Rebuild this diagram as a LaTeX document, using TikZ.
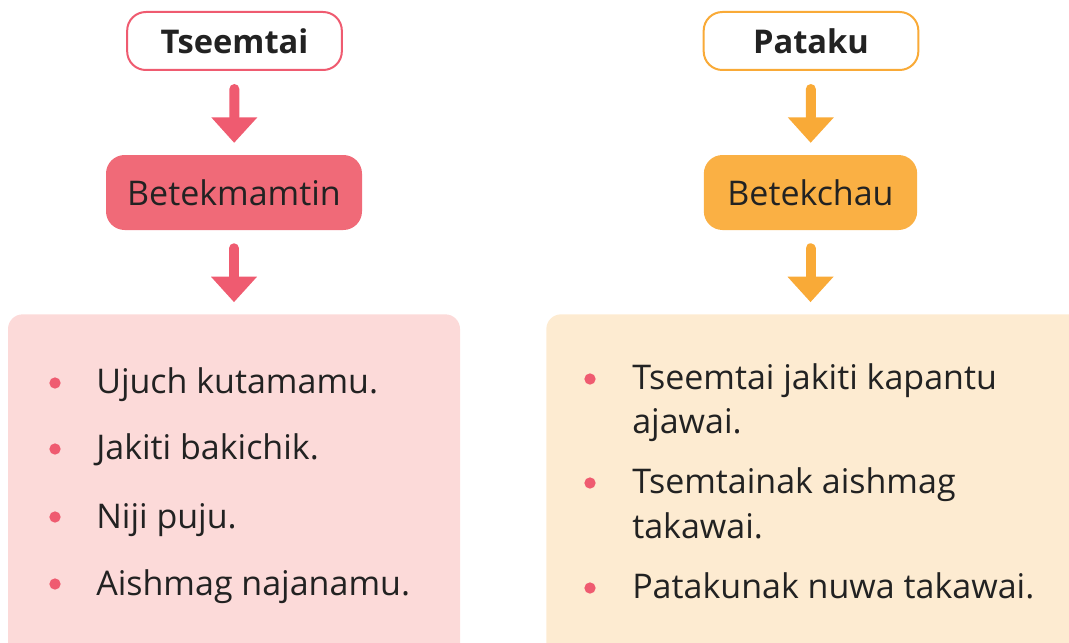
\documentclass[tikz,border=0pt]{standalone}
\usepackage{fontspec}
\setmainfont{Open Sans}
\usetikzlibrary{arrows.meta}

\definecolor{rosered}{RGB}{239,91,112}
\definecolor{rosefill}{RGB}{240,106,120}
\definecolor{roselight}{RGB}{252,218,217}
\definecolor{amberline}{RGB}{249,170,55}
\definecolor{amberfill}{RGB}{250,176,68}
\definecolor{amberlight}{RGB}{253,235,209}
\definecolor{inkdark}{RGB}{34,34,34}

\tikzset{
  headbox/.style={draw=#1, line width=1.5pt, fill=white, rounded corners=14pt,
    minimum width=161pt, minimum height=43.5pt, inner sep=0pt,
    font=\bfseries\fontsize{24.5}{30}\selectfont, text=inkdark},
  kindbox/.style={fill=#1, rounded corners=14pt, minimum height=56.25pt, inner sep=0pt,
    font=\fontsize{25.5}{30}\selectfont, text=inkdark},
  listbox/.style={fill=#1, rounded corners=11pt, inner sep=0pt},
  flowarrow/.style={draw=#1, line width=7.5pt, line cap=round,
    -{Triangle[width=34.5pt,length=19pt,line width=0pt,round=false]}, shorten <=13.5pt, shorten >=9pt},
  itemtext/.style={anchor=base west, inner sep=0pt, text=inkdark,
    font=\fontsize{25.5}{30}\selectfont},
  dot/.style={fill=rosered, draw=none, circle, minimum size=8.5pt, inner sep=0pt}
}

\begin{document}
\begin{tikzpicture}[x=0.75pt,y=0.75pt,yscale=-1,xscale=1]
\useasboundingbox (0,0) rectangle (1069,642);
\clip (0,0) rectangle (1069,642);

% left column
\node [headbox=rosered] (tseemtai) at (234.5,41) {Tseemtai};
\node [kindbox=rosefill, minimum width=192pt] (betekmamtin) at (234,192.5) {Betekmamtin};
\node [listbox=roselight, minimum width=339pt, minimum height=262pt] (listred) at (234,489) {};

\draw [flowarrow=rosered] (tseemtai) -- (betekmamtin);
\draw [flowarrow=rosered] (betekmamtin) -- (listred);

% right column
\node [headbox=amberline] (pataku) at (811,41) {Pataku};
\node [kindbox=amberfill, minimum width=160pt] (betekchau) at (810.5,192.5) {Betekchau};
\node [listbox=amberlight, minimum width=412pt, minimum height=262pt] (listorange) at (821,489) {};

\draw [flowarrow=amberline] (pataku) -- (betekchau);
\draw [flowarrow=amberline] (betekchau.south) -- (betekchau.south |- listorange.north);

% Text Node
\node [dot] (dotA) at (55,383) {};
\node [itemtext] (itemA) at (96,393) {Ujuch kutamamu.};
\node [dot] (dotB) at (55,449) {};
\node [itemtext] (itemB) at (96,459) {Jakiti bakichik.};
\node [dot] (dotC) at (55,517) {};
\node [itemtext] (itemC) at (96,528) {Niji puju.};
\node [dot] (dotD) at (55,584) {};
\node [itemtext] (itemD) at (96,595) {Aishmag najanamu.};

% Text Node
\node [dot] (dotE) at (590,379) {};
\node [itemtext] (itemE) at (632,389) {Tseemtai jakiti kapantu};
\node [itemtext] (itemEb) at (632,433) {ajawai.};
\node [dot] (dotF) at (590,483) {};
\node [itemtext] (itemF) at (632,493) {Tsemtainak aishmag};
\node [itemtext] (itemFb) at (632,538) {takawai.};
\node [dot] (dotG) at (590,588) {};
\node [itemtext] (itemG) at (632,598) {Patakunak nuwa takawai.};

\end{tikzpicture}
\end{document}
